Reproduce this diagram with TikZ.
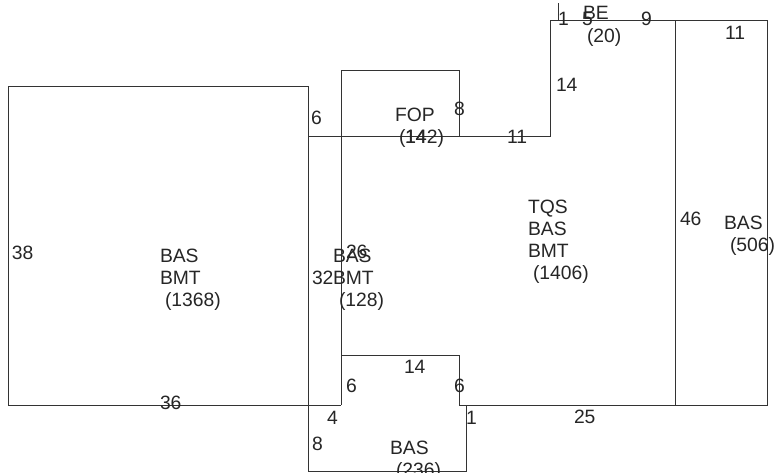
\documentclass[tikz,border=0pt]{standalone}
\usepackage{fontspec}
\setmainfont{Liberation Sans}
\tikzset{wall/.style={draw=black!80,line width=1pt},
 lbl/.style={anchor=base west,inner sep=0pt,outer sep=0pt,text=black!85,font=\fontsize{19.3}{22}\selectfont}}
\begin{document}
\begin{tikzpicture}[x=1pt,y=-1pt]
\clip (0,0) rectangle (774,472);
\fill[white] (0,0) rectangle (774,472);
\draw[wall] (308,86) -- (8,86) -- (8,405) -- (341,405);
\draw[wall] (308,86) -- (308,471) -- (466,471) -- (466,405);
\draw[wall] (308,136) -- (550,136) -- (550,20) -- (767,20) -- (767,405) -- (459,405) -- (459,355) -- (341,355);
\draw[wall] (341,405) -- (341,70) -- (459,70) -- (459,136);
\draw[wall] (675,20) -- (675,405);
\draw[wall] (558,3) -- (558,20);
\foreach \n/\x/\y/\t in {
a/12/259/38,b/160/262/BAS,c/160/284/BMT,d/165/306/(1368),e/160/409/36,
f/311/124/6,g/312/284/32,h/333/262/BAS,i/346/258/26,j/333/284/BMT,k/339/306/(128),
l/395/121/FOP,m/399/143/(142),n/405/143/14,o/454/115/8,p/507/143/11,q/556/91/14,
r/558/25/1,s/582/25/5,t/583/19/BE,u/587/42/(20),v/641/25/9,w/725/39/11,
x/528/213/TQS,y/528/235/BAS,z/528/257/BMT,aa/533/279/(1406),ab/680/225/46,
ac/724/229/BAS,ad/730/251/(506),ae/404/373/14,af/346/392/6,ag/454/392/6,
ah/327/424/4,ai/466/424/1,aj/574/423/25,ak/312/450/8,al/390/454/BAS,am/396/476/(236)}
  \node[lbl] (\n) at (\x,\y) {\t};
\end{tikzpicture}
\end{document}
